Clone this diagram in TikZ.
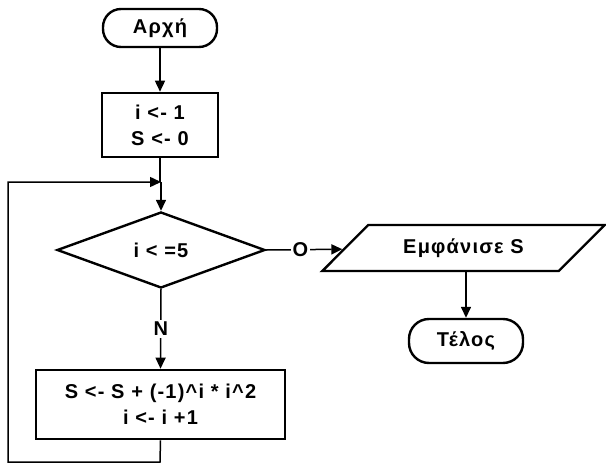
\documentclass[tikz,border=0pt]{standalone}
\usepackage{fontspec}
\setmainfont{Liberation Sans}[LetterSpace=6]
\usetikzlibrary{shapes.geometric,arrows.meta}
\begin{document}
\begin{tikzpicture}[x=1pt,y=-1pt,
  every node/.style={font=\fontsize{20}{26}\selectfont\bfseries},
  term/.style={draw,line width=2.4pt,rounded corners=18pt,minimum width=114pt,minimum height=38pt,inner sep=0pt},
  procbox/.style={draw,line width=2.6pt,align=center,inner sep=0pt},
  decbox/.style={draw,diamond,line width=2.4pt,minimum width=208pt,minimum height=76pt,inner sep=0pt},
  iobox/.style={draw,trapezium,trapezium left angle=33,trapezium right angle=147,trapezium stretches=true,line width=2.4pt,minimum width=283pt,minimum height=46pt,inner sep=0pt},
  conn/.style={line width=1.5pt,-{Triangle[length=11pt,width=10pt]}},
  plain/.style={line width=1.5pt},
  lbl/.style={fill=white,inner sep=2pt}]
\useasboundingbox (0,0) rectangle (606,471);
\node[term] (start) at (160,28) {Αρχή};
\node[procbox,minimum width=116pt,minimum height=64pt] (init) at (160,125) {i <- 1\\S <- 0};
\node[decbox] (dec) at (161,250) {i < =5};
\node[iobox] (out) at (463.5,248) {Εμφάνισε S};
\node[term,minimum height=44pt,rounded corners=20pt] (end) at (466,341) {Τέλος};
\node[procbox,minimum width=249pt,minimum height=69pt] (body) at (160.5,404.5) {S <- S + (-1)\textasciicircum i * i\textasciicircum 2\\i <- i +1};
\coordinate (merge) at (161,182);
\coordinate (bl) at (160,462);
\coordinate (tl) at (8,182);
\draw[conn] (start) -- (init);
\draw[plain] (init.south) -- (init.south |- merge);
\draw[conn] (merge) -- (dec.north);
\draw[conn] (dec.south) -- node[lbl,pos=0.5] {N} (body.north);
\draw[conn] (dec.east) -- node[lbl,pos=0.45] {O} (out);
\draw[conn] (out.south -| end.north) -- (end.north);
\draw[conn] (body.south) -- (bl) -- (8,462) -- (tl) -- (merge);
\end{tikzpicture}
\end{document}
